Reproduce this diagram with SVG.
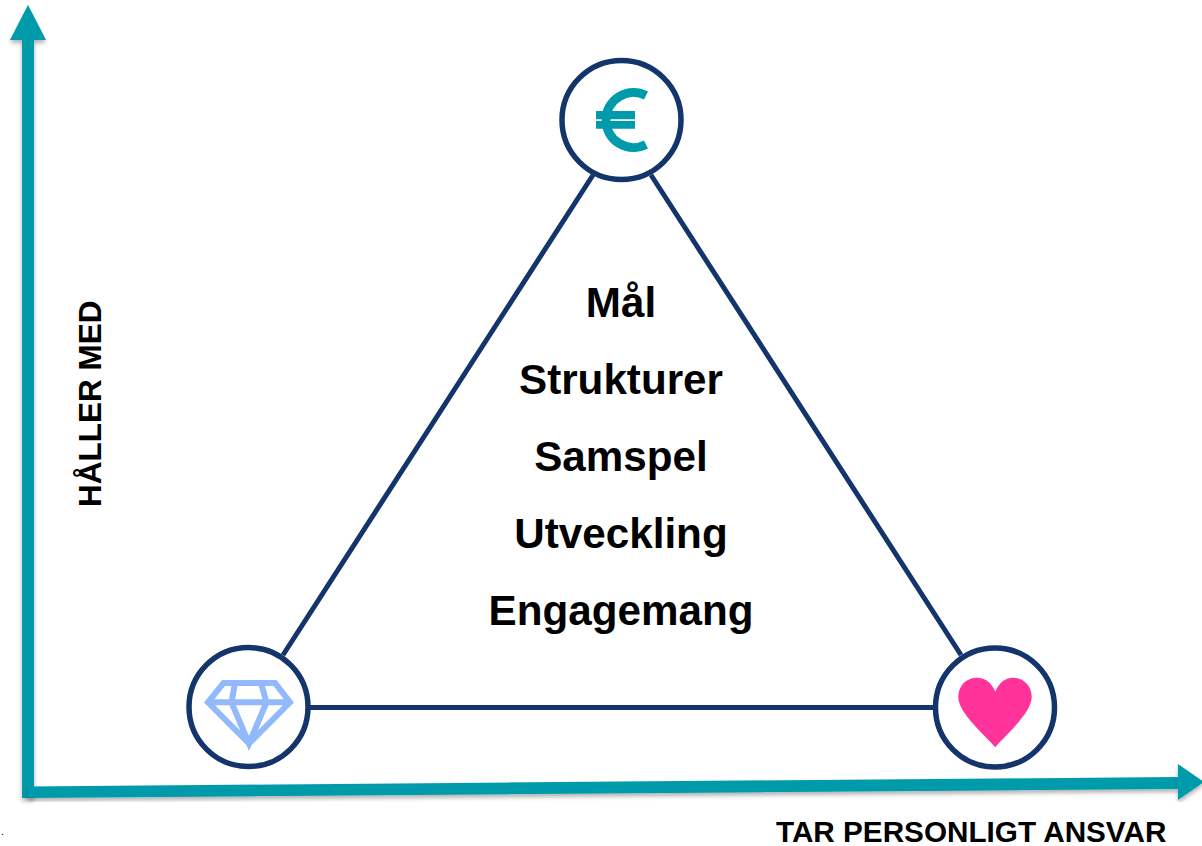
<svg xmlns="http://www.w3.org/2000/svg" width="1202" height="846" viewBox="0 0 1202 846">
<style>
text{font-family:"Liberation Sans",Arial,sans-serif;font-weight:700;fill:#000}
.m{font-size:42.2px;text-anchor:middle}
.a{font-size:29.7px}
.c{fill:#fff;stroke:#14356b;stroke-width:5.500}
.l{stroke:#14356b;stroke-width:5;fill:none}
.ax{fill:#009bab;filter:url(#s)}
</style>
<defs><filter id="s" x="-5%" y="-5%" width="110%" height="110%"><feDropShadow dx="0" dy="3" stdDeviation="2" flood-color="#000" flood-opacity=".3"/></filter></defs>
<g id="connectors">
<path class="ax" d="M22 798V40H10L28 5 46 40H34V798Z"/>
<path class="ax" d="M28 786.500L1178 777V764L1204 782 1178 800V789L28 798Z"/>
<path class="l" d="M593 175L283 655M651 175L961 655M310 707.500H933"/>
</g>
<g id="node-euro">
<circle class="c" cx="621.500" cy="120" r="59.500"/>
<path d="M646 95.500A27.500 27.500 0 1 0 646 144.500" fill="none" stroke="#009bab" stroke-width="9"/>
<path d="M596 111H635V119.300H596ZM596 121H635V128.700H596Z" fill="#009bab"/>
</g>
<g id="node-diamond">
<circle class="c" cx="248.500" cy="707" r="59.500"/>
<path d="M223.500 683H275L290 702.300 249 743.500 208 702.300ZM208 702.300H290M235 683L231.500 702.300 249 743.500 266.500 702.300 261 683" fill="none" stroke="#91b9fb" stroke-width="6" stroke-linejoin="miter"/>
</g>
<g id="node-heart">
<circle class="c" cx="995" cy="707.500" r="59.500"/>
<path d="M995.300 747.300C985 735 958.300 713 958.300 697C958.300 685.500 966.500 677.700 977 677.700C985 677.700 991.500 682.500 995.300 691.700C999 682.500 1005.500 677.700 1013 677.700C1023.500 677.700 1031.700 685.500 1031.700 697C1031.700 713 1005.500 735 995.300 747.300Z" fill="#ff3399"/>
</g>
<g id="labels">
<text class="m" x="621" y="317">Mål</text>
<text class="m" x="621" y="394">Strukturer</text>
<text class="m" x="621" y="471">Samspel</text>
<text class="m" x="621" y="548">Utveckling</text>
<text class="m" x="621" y="625">Engagemang</text>
<text class="a" style="font-size:31.500px" transform="translate(101 507) rotate(-90)">HÅLLER MED</text>
<text class="a" x="776" y="842">TAR PERSONLIGT ANSVAR</text>
<text x="1" y="835" style="font-size:11px;font-weight:400">.</text>
</g>
</svg>
